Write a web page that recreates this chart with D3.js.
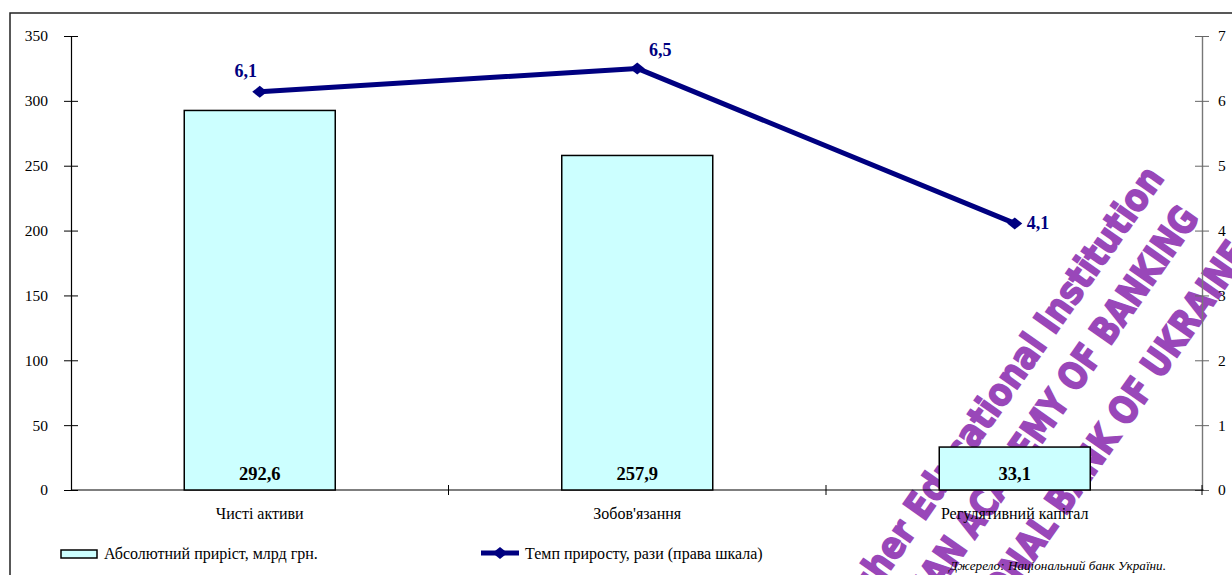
<!DOCTYPE html>
<html>
<head>
<meta charset="utf-8">
<script src="https://cdn.jsdelivr.net/npm/d3@7"></script>
<style>
  html, body { margin: 0; padding: 0; background: #fff; }
  svg { display: block; }
</style>
</head>
<body>
<svg id="chart" width="1232" height="575"></svg>
<script>
// ------- Data -------
const categories = ['Чисті активи', "Зобов'язання", 'Регулятивний капітал'];
const absoluteGrowth = [292.6, 257.9, 33.1];
const growthRate = [6.14, 6.5, 4.11];
const leftTicks = [0, 50, 100, 150, 200, 250, 300, 350];
const rightTicks = [0, 1, 2, 3, 4, 5, 6, 7];
const legendLabels = ['Абсолютний приріст, млрд грн.', 'Темп приросту, рази (права шкала)'];
const sourceNote = 'Джерело: Національний банк України.';
const watermarkLines = ['Higher Educational Institution', 'UKRAINIAN ACADEMY OF BANKING', 'OF NATIONAL BANK OF UKRAINE'];

const serif = "'Liberation Serif', 'Times New Roman', serif";
const svg = d3.select('#chart').attr('font-family', serif);
const fmt = v => d3.format('.1f')(v).replace('.', ',');

// ------- Watermark (behind the chart, which is transparent) -------
const wmEnds = [[1165, 178], [1200, 218], [1250, 253]];
const wmLengths = [555, 596, 567];
svg.append('g')
    .attr('opacity', 0.9)
    .selectAll('text')
    .data(watermarkLines)
    .enter()
    .append('text')
        .attr('transform', (d, i) => `translate(${wmEnds[i][0]},${wmEnds[i][1]}) rotate(-55)`)
        .attr('text-anchor', 'end')
        .attr('font-family', "'DejaVu Sans Condensed', 'DejaVu Sans', sans-serif")
        .attr('font-weight', 'bold')
        .attr('font-size', 38)
        .attr('textLength', (d, i) => wmLengths[i])
        .attr('lengthAdjust', 'spacingAndGlyphs')
        .attr('fill', '#8e34b2')
        .attr('stroke', '#8e34b2')
        .attr('stroke-width', 1.6)
        .text(d => d);

// ------- Frame -------
svg.append('rect')
    .attr('x', 10).attr('y', 13)
    .attr('width', 1240).attr('height', 600)
    .attr('fill', 'none')
    .attr('stroke', '#222')
    .attr('stroke-width', 1.5);

// ------- Scales -------
const plot = {left: 71, right: 1203.5, top: 36, bottom: 490};

const xOuter = d3.scaleBand()
    .domain(categories)
    .range([plot.left, plot.right]);

const x = d3.scaleBand()
    .domain(categories)
    .range([plot.left, plot.right])
    .paddingInner(0.6)
    .paddingOuter(0.3);

const yLeft = d3.scaleLinear().domain([0, 350]).range([plot.bottom, plot.top]);
const yRight = d3.scaleLinear().domain([0, 7]).range([plot.bottom, plot.top]);

// ------- Axes -------
const leftAxis = svg.append('g')
    .attr('transform', `translate(${plot.left},0)`)
    .call(d3.axisLeft(yLeft).tickValues(leftTicks).tickSize(7).tickSizeOuter(0).tickPadding(16).tickFormat(d => d));
leftAxis.selectAll('.tick line').attr('x1', 7).attr('stroke', '#000');
leftAxis.select('.domain').attr('stroke', '#000').attr('stroke-width', 1.2);

const rightAxis = svg.append('g')
    .attr('transform', `translate(${plot.right - 1.5},0)`)
    .call(d3.axisRight(yRight).tickValues(rightTicks).tickSize(7).tickSizeOuter(0).tickPadding(9).tickFormat(d => d));
rightAxis.selectAll('.tick line').attr('x1', -7).attr('stroke', '#666');
rightAxis.select('.domain').attr('stroke', '#777').attr('stroke-width', 1.4);

[leftAxis, rightAxis].forEach(a => {
    a.attr('font-family', serif).attr('font-size', 15.5);
    a.selectAll('.tick text').attr('fill', '#000');
});

// bottom axis line with ticks at band boundaries
const bottom = svg.append('g');
bottom.append('line')
    .attr('x1', plot.left).attr('x2', plot.right)
    .attr('y1', plot.bottom).attr('y2', plot.bottom)
    .attr('stroke', '#000').attr('stroke-width', 1.2);

const boundaries = categories.map(c => xOuter(c)).slice(1).concat([plot.right - 1.5]);
bottom.selectAll('line.xtick')
    .data(boundaries)
    .enter()
    .append('line')
        .attr('class', 'xtick')
        .attr('x1', d => d).attr('x2', d => d)
        .attr('y1', plot.bottom - 5).attr('y2', plot.bottom + 5)
        .attr('stroke', '#000');

bottom.selectAll('text.cat')
    .data(categories)
    .enter()
    .append('text')
        .attr('class', 'cat')
        .attr('x', d => xOuter(d) + xOuter.bandwidth() / 2)
        .attr('y', 519)
        .attr('text-anchor', 'middle')
        .attr('font-size', 16)
        .text(d => d);

// ------- Bars -------
const bars = svg.append('g');
bars.selectAll('rect')
    .data(categories)
    .enter()
    .append('rect')
        .attr('x', d => x(d))
        .attr('width', x.bandwidth())
        .attr('y', (d, i) => yLeft(absoluteGrowth[i]))
        .attr('height', (d, i) => yLeft(0) - yLeft(absoluteGrowth[i]))
        .attr('fill', '#ccffff')
        .attr('stroke', '#000')
        .attr('stroke-width', 1.5);

bars.selectAll('text')
    .data(categories)
    .enter()
    .append('text')
        .attr('x', d => x(d) + x.bandwidth() / 2)
        .attr('y', 480)
        .attr('text-anchor', 'middle')
        .attr('font-size', 18.5)
        .attr('font-weight', 'bold')
        .text((d, i) => fmt(absoluteGrowth[i]));

// ------- Line -------
const cx = d => x(d) + x.bandwidth() / 2;
const lineGen = d3.line()
    .x(d => cx(d))
    .y((d, i) => yRight(growthRate[i]));

const navy = '#000080';
const diamond = 'M0,-6L7.5,0L0,6L-7.5,0Z';

svg.append('path')
    .datum(categories)
    .attr('d', lineGen)
    .attr('fill', 'none')
    .attr('stroke', navy)
    .attr('stroke-width', 5)
    .attr('stroke-linejoin', 'round');

svg.selectAll('path.marker')
    .data(categories)
    .enter()
    .append('path')
        .attr('class', 'marker')
        .attr('d', diamond)
        .attr('transform', (d, i) => `translate(${cx(d)},${yRight(growthRate[i])})`)
        .attr('fill', navy);

const labelOffsets = [[-14, -15, 'middle'], [23, -12, 'middle'], [12, 6, 'start']];
svg.selectAll('text.rate')
    .data(categories)
    .enter()
    .append('text')
        .attr('class', 'rate')
        .attr('x', (d, i) => cx(d) + labelOffsets[i][0])
        .attr('y', (d, i) => yRight(growthRate[i]) + labelOffsets[i][1])
        .attr('text-anchor', (d, i) => labelOffsets[i][2])
        .attr('font-size', 18)
        .attr('font-weight', 'bold')
        .attr('fill', navy)
        .text((d, i) => fmt(growthRate[i]));

// ------- Legend -------
const legend = svg.append('g').attr('font-size', 16);
legend.append('rect')
    .attr('x', 61).attr('y', 550)
    .attr('width', 36).attr('height', 8)
    .attr('fill', '#ccffff')
    .attr('stroke', '#000')
    .attr('stroke-width', 1.5);
legend.append('text').attr('x', 104).attr('y', 559).text(legendLabels[0]);

legend.append('line')
    .attr('x1', 481).attr('x2', 519)
    .attr('y1', 553).attr('y2', 553)
    .attr('stroke', navy).attr('stroke-width', 5);
legend.append('path')
    .attr('d', diamond)
    .attr('transform', 'translate(500,553)')
    .attr('fill', navy);
legend.append('text').attr('x', 525).attr('y', 559).text(legendLabels[1]);

svg.append('text')
    .attr('x', 1166).attr('y', 570)
    .attr('text-anchor', 'end')
    .attr('font-size', 13.2)
    .attr('font-style', 'italic')
    .text(sourceNote);
</script>
</body>
</html>
